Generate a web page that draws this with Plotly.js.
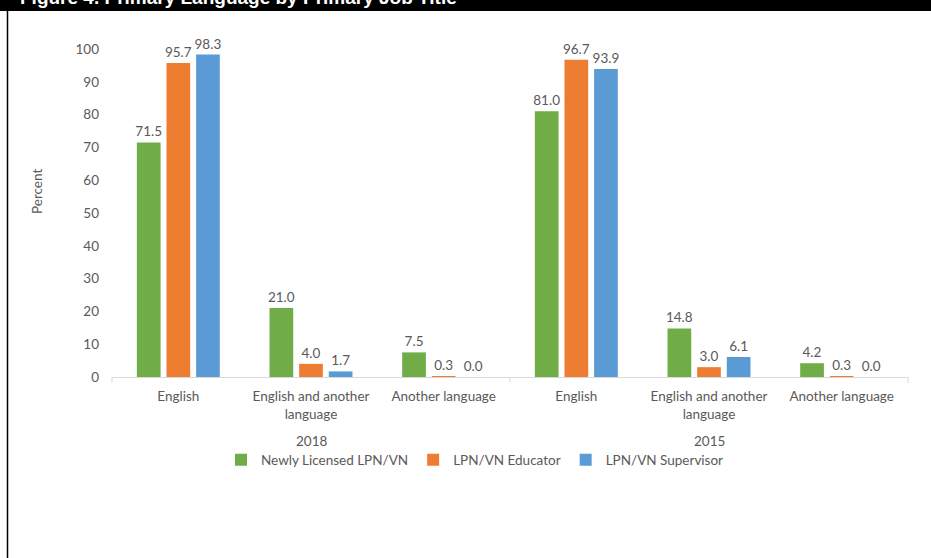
<!DOCTYPE html>
<html>
<head>
<meta charset="utf-8">
<script src="https://cdn.plot.ly/plotly-3.0.1.min.js"></script>
<style>html,body{margin:0;padding:0;background:#fff;}#chart{width:931px;height:558px;}</style>
</head>
<body>
<div id="chart"></div>
<script>
const years = ["2018", "2018", "2018", "2015", "2015", "2015"];
const languages = ["English", "English and another<br>language", "Another language",
                   "English", "English and another<br>language", "Another language"];
const newlyLicensed = [71.5, 21.0, 7.5, 81.0, 14.8, 4.2];
const educator = [95.7, 4.0, 0.3, 96.7, 3.0, 0.3];
const supervisor = [98.3, 1.7, 0.0, 93.9, 6.1, 0.0];
const seriesNames = ["Newly Licensed LPN/VN", "LPN/VN Educator", "LPN/VN Supervisor"];
const seriesColors = ["#70AD47", "#ED7D31", "#5B9BD5"];
const yearGroups = ["2018", "2015"];
const titleText = "Figure 4. Primary Language by Primary Job Title";
const yTitle = "Percent";

const FONT = "Lato, 'Open Sans', sans-serif";
const GRAY = "#595959";

// unique category keys (year + language), labelled with the language only
const catKeys = languages.map((l, i) => years[i] + "|" + l);

const seriesValues = [newlyLicensed, educator, supervisor];
const traces = seriesValues.map((vals, i) => ({
  type: "bar",
  name: seriesNames[i],
  x: catKeys,
  y: vals,
  marker: {color: seriesColors[i]},
  text: vals.map(v => v.toFixed(1)),
  textposition: "outside",
  constraintext: "none",
  textfont: {family: FONT, size: 13.5, color: GRAY},
  cliponaxis: false,
  hoverinfo: "skip"
}));

const plotTop = 49, plotBottom = 377, plotH = plotBottom - plotTop;
const plotLeft = 112, plotW = 796;
const py = px => (plotBottom - px) / plotH;
const pxx = px => (px - plotLeft) / plotW;

// year label centred under the middle category of each group
const yearAnnotations = yearGroups.map(yr => {
  const idx = years.map((y, i) => y === yr ? i : -1).filter(i => i >= 0);
  const mid = idx[Math.floor(idx.length / 2)];
  return {text: yr, xref: "x", yref: "paper", x: catKeys[mid], y: py(441),
          yanchor: "middle", showarrow: false,
          font: {family: FONT, size: 13.5, color: GRAY}};
});

const layout = {
  width: 931,
  height: 558,
  margin: {l: plotLeft, r: 931 - plotLeft - plotW, t: plotTop, b: 558 - plotBottom},
  paper_bgcolor: "#ffffff",
  plot_bgcolor: "#ffffff",
  font: {family: FONT, size: 13.5, color: GRAY},
  barmode: "group",
  bargap: 0.33,
  bargroupgap: 0.2,
  showlegend: true,
  legend: {
    orientation: "h",
    x: pxx(475), xanchor: "center",
    y: py(460), yanchor: "middle",
    font: {family: FONT, size: 13.5, color: GRAY},
    itemwidth: 30,
    tracegroupgap: 0
  },
  xaxis: {
    type: "category",
    tickvals: catKeys,
    ticktext: languages,
    showline: true,
    linecolor: "#d9d9d9",
    linewidth: 1,
    ticks: "",
    ticklabelstandoff: 7,
    showgrid: false,
    zeroline: false,
    tickfont: {family: FONT, size: 13.5, color: GRAY}
  },
  yaxis: {
    range: [0, 100],
    dtick: 10,
    showgrid: false,
    zeroline: false,
    showline: false,
    ticks: "",
    ticklabelstandoff: 12,
    tickfont: {family: FONT, size: 13.5, color: GRAY}
  },
  shapes: [
    {type: "rect", xref: "paper", yref: "paper", x0: pxx(-5), x1: pxx(940), y0: py(11), y1: py(-5),
     fillcolor: "#000000", line: {width: 0}, layer: "above"},
    {type: "line", xref: "paper", yref: "paper", x0: pxx(7.5), x1: pxx(7.5), y0: py(11), y1: py(565),
     line: {color: "#000000", width: 1.5}},
    {type: "line", xref: "paper", yref: "paper", x0: 0, x1: 0, y0: 0, y1: py(383),
     line: {color: "#d9d9d9", width: 1}},
    {type: "line", xref: "paper", yref: "paper", x0: 0.5, x1: 0.5, y0: 0, y1: py(383),
     line: {color: "#d9d9d9", width: 1}},
    {type: "line", xref: "paper", yref: "paper", x0: 1, x1: 1, y0: 0, y1: py(383),
     line: {color: "#d9d9d9", width: 1}}
  ],
  annotations: [
    {text: "<b>" + titleText + "</b>", xref: "paper", yref: "paper",
     x: pxx(18), xanchor: "left", y: py(10), yanchor: "bottom",
     showarrow: false, font: {family: "'Liberation Sans', Arial, sans-serif", size: 19, color: "#ffffff"}},
    {text: yTitle, xref: "paper", yref: "paper", x: pxx(37), y: py(192),
     xanchor: "center", yanchor: "middle", textangle: -90, showarrow: false,
     font: {family: FONT, size: 13.5, color: GRAY}}
  ].concat(yearAnnotations)
};

Plotly.newPlot("chart", traces, layout, {displayModeBar: false, staticPlot: true});
</script>
</body>
</html>
